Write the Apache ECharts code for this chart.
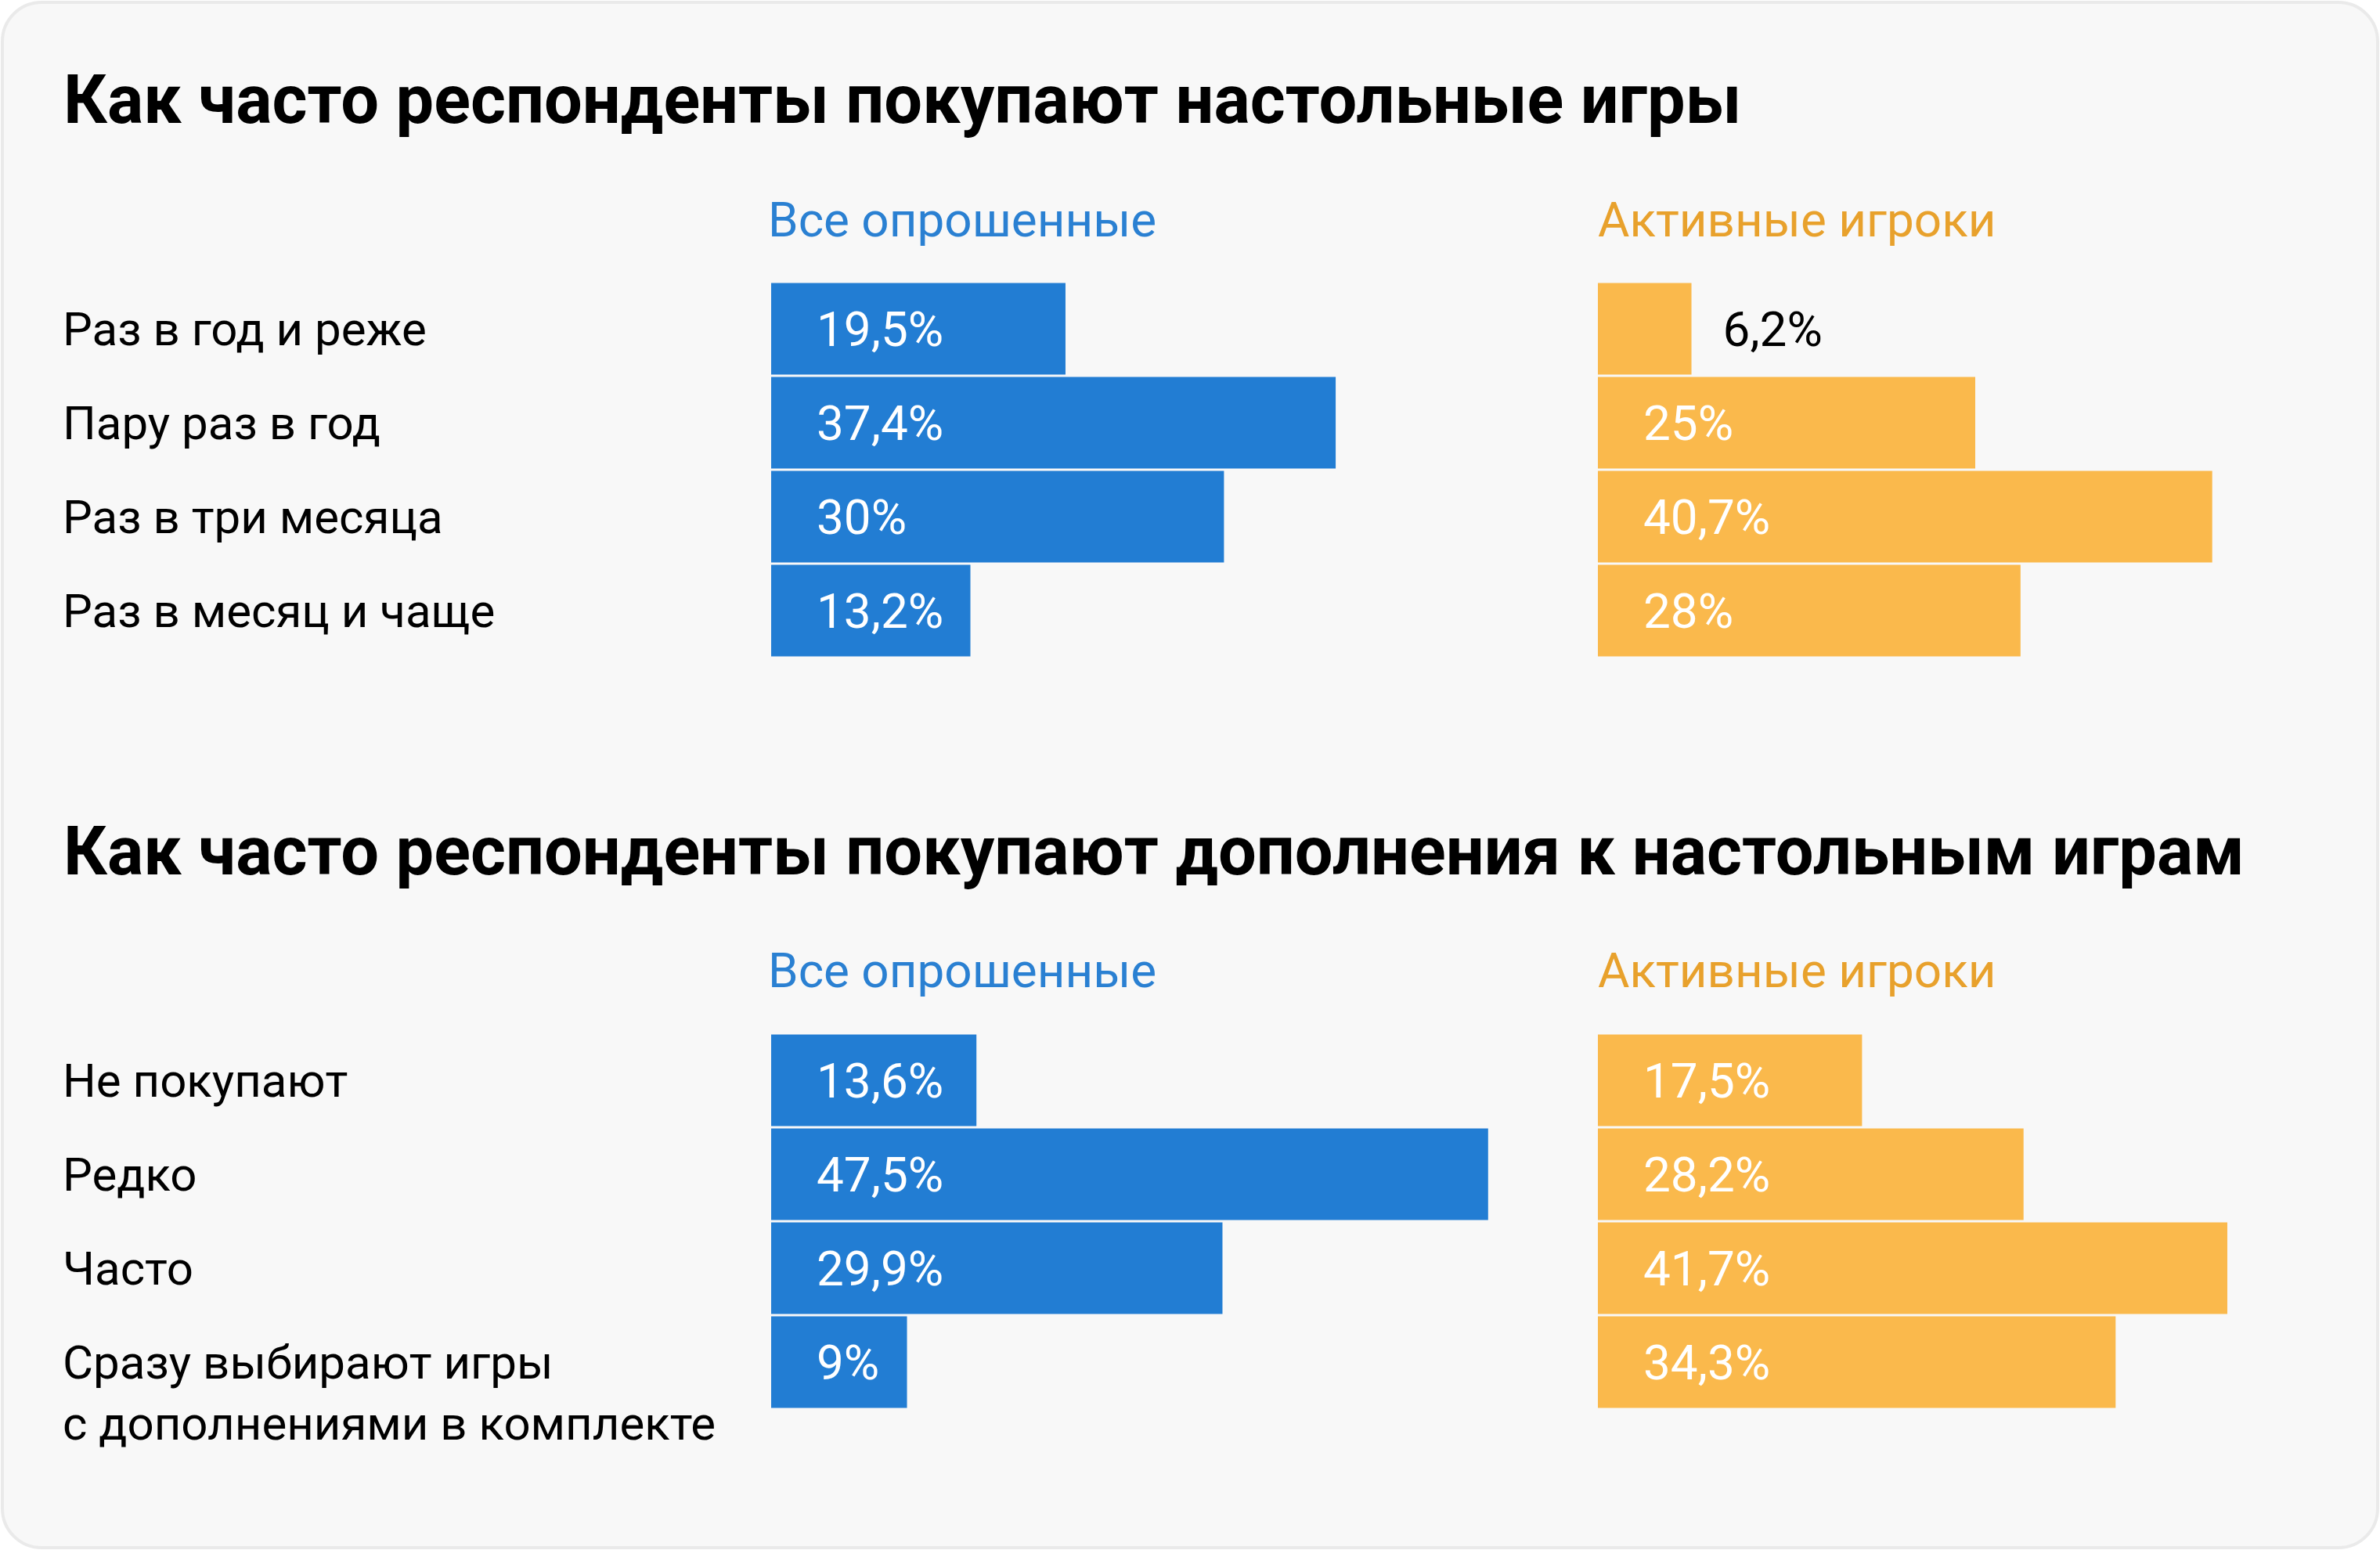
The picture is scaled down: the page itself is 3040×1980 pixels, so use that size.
<!DOCTYPE html>
<html>
<head>
<meta charset="utf-8">
<script src="https://cdn.jsdelivr.net/npm/echarts@6/dist/echarts.min.js"></script>
<style>
html,body{margin:0;padding:0;background:#ffffff;}
#chart{width:3040px;height:1980px;}
</style>
</head>
<body>
<div id="chart"></div>
<script>
// ---- data ----
const chartTitles = [
  'Как часто респонденты покупают настольные игры',
  'Как часто респонденты покупают дополнения к настольным играм'
];
const groupNames = ['Все опрошенные', 'Активные игроки'];
const categories1 = ['Раз в год и реже', 'Пару раз в год', 'Раз в три месяца', 'Раз в месяц и чаще'];
const allValues1 = [19.5, 37.4, 30, 13.2];
const activeValues1 = [6.2, 25, 40.7, 28];
const categories2 = ['Не покупают', 'Редко', 'Часто', 'Сразу выбирают игры\nс дополнениями в комплекте'];
const allValues2 = [13.6, 47.5, 29.9, 9];
const activeValues2 = [17.5, 28.2, 41.7, 34.3];

// ---- styles ----
const BLUE = '#227dd3';
const ORANGE = '#fab94c';
const BLUE_TEXT = '#2a80d2';
const ORANGE_TEXT = '#e8a12c';
const FONT = 'Roboto';
const AXIS_MAX = 50;
const GRID_W = 964;
const GRID_H = 480;
const LEFT_A = 985, LEFT_B = 2041;
const TOP_1 = 360, TOP_2 = 1320;
const LABEL_X = 80;
const LINE_H = 78;

const chart = echarts.init(document.getElementById('chart'), null, {renderer: 'canvas'});

function fmt(v) { return String(v).replace('.', ',') + '%'; }

function barData(values) {
  return values.map(v => {
    if (v < 8) {
      return {value: v, label: {position: 'right', color: '#000000', distance: 40}};
    }
    return v;
  });
}

// category label: first line centred on the bar, extra lines hang below
function catLabel(v) {
  const lines = String(v).split('\n');
  const gap = lines.length > 1 ? 'gapL' : 'gapS';
  return '{' + gap + '| }\n' + lines.map(s => '{t|' + s + '}').join('\n');
}

const grids = [
  {left: LEFT_A, top: TOP_1, width: GRID_W, height: GRID_H},
  {left: LEFT_B, top: TOP_1, width: GRID_W, height: GRID_H},
  {left: LEFT_A, top: TOP_2, width: GRID_W, height: GRID_H},
  {left: LEFT_B, top: TOP_2, width: GRID_W, height: GRID_H}
].map(g => Object.assign(g, {containLabel: false, outerBoundsMode: 'none'}));
const catSets = [categories1, categories1, categories2, categories2];
const valSets = [allValues1, activeValues1, allValues2, activeValues2];
const colors = [BLUE, ORANGE, BLUE, ORANGE];

const xAxes = grids.map((g, i) => ({
  type: 'value', gridIndex: i, min: 0, max: AXIS_MAX, show: false
}));
const yAxes = grids.map((g, i) => ({
  type: 'category', gridIndex: i, inverse: true,
  data: catSets[i],
  axisLine: {show: false}, axisTick: {show: false}, splitLine: {show: false},
  axisLabel: {
    show: i % 2 === 0,
    interval: 0,
    hideOverlap: false,
    align: 'left',
    margin: LEFT_A - LABEL_X,
    formatter: catLabel,
    rich: {
      gapS: {fontSize: 10, lineHeight: 12, height: 12},
      gapL: {fontSize: 10, lineHeight: 12 + LINE_H, height: 12 + LINE_H},
      t: {fontFamily: FONT, fontSize: 60, color: '#000000', lineHeight: LINE_H}
    },
    fontFamily: FONT, fontSize: 60, color: '#000000'
  }
}));
const series = grids.map((g, i) => ({
  type: 'bar', xAxisIndex: i, yAxisIndex: i,
  data: barData(valSets[i]),
  barWidth: 117,
  itemStyle: {color: colors[i]},
  silent: true,
  label: {
    show: true, position: 'insideLeft', distance: 58, offset: [0, 6],
    formatter: p => fmt(p.value),
    fontFamily: FONT, fontSize: 62, color: '#ffffff'
  }
}));

const titleBase = {textStyle: {fontFamily: FONT, fontWeight: 'bold', fontSize: 86.5, color: '#000000'}, padding: 0};
const subBase = (color) => ({textStyle: {fontFamily: FONT, fontWeight: 'normal', fontSize: 62, color: color}, padding: 0});

const option = {
  backgroundColor: '#ffffff',
  animation: false,
  graphic: [{
    type: 'rect', z: -10, silent: true,
    shape: {x: 3, y: 3, width: 3034, height: 1974, r: 50},
    style: {fill: '#f8f8f8', stroke: '#eaeaea', lineWidth: 4}
  }],
  title: [
    Object.assign({text: chartTitles[0], left: LABEL_X + 1, top: 92}, titleBase),
    Object.assign({text: groupNames[0], left: LEFT_A - 4, top: 255}, subBase(BLUE_TEXT)),
    Object.assign({text: groupNames[1], left: LEFT_B, top: 255}, subBase(ORANGE_TEXT)),
    Object.assign({text: chartTitles[1], left: LABEL_X + 1, top: 1052}, titleBase),
    Object.assign({text: groupNames[0], left: LEFT_A - 4, top: 1214}, subBase(BLUE_TEXT)),
    Object.assign({text: groupNames[1], left: LEFT_B, top: 1214}, subBase(ORANGE_TEXT))
  ],
  grid: grids,
  xAxis: xAxes,
  yAxis: yAxes,
  series: series
};
chart.setOption(option);
</script>
</body>
</html>
